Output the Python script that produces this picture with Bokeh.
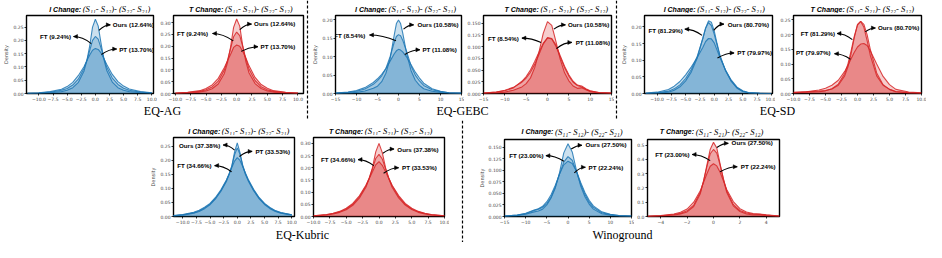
from bokeh.plotting import figure
from bokeh.layouts import row, column
from bokeh.models import (Range1d, FixedTicker, Arrow, NormalHead, Span,
                          ColumnDataSource, Spacer)
from bokeh.core.properties import value
from bokeh.embed import file_html
from bokeh.resources import INLINE

BLUE = "#1f77b4"
RED = "#d62728"

# ---------------- data ----------------
# EQ-AG, I change
ag_i_x = [-12, -10, -8, -6, -5, -4, -3, -2, -1.5, -1, -0.5, 0, 0.5, 1, 1.5, 2, 3, 4, 5, 6, 8, 10]
ag_i_ours = [0.000, 0.001, 0.003, 0.007, 0.012, 0.022, 0.042, 0.085, 0.125, 0.180, 0.250, 0.280, 0.255, 0.190, 0.130, 0.088, 0.043, 0.022, 0.012, 0.007, 0.003, 0.001]
ag_i_ft = [0.001, 0.002, 0.005, 0.012, 0.019, 0.032, 0.055, 0.095, 0.125, 0.162, 0.200, 0.215, 0.205, 0.172, 0.135, 0.100, 0.058, 0.034, 0.020, 0.012, 0.005, 0.002]
ag_i_pt = [0.001, 0.003, 0.007, 0.016, 0.026, 0.042, 0.068, 0.102, 0.124, 0.145, 0.163, 0.170, 0.166, 0.153, 0.132, 0.110, 0.072, 0.045, 0.028, 0.017, 0.007, 0.003]
# EQ-AG, T change
ag_t_x = [-10, -8, -6, -5, -4, -3, -2, -1.5, -1, -0.5, 0, 0.5, 1, 1.5, 2, 3, 4, 5, 6, 8, 10]
ag_t_ours = [0.000, 0.002, 0.006, 0.011, 0.020, 0.040, 0.085, 0.130, 0.195, 0.280, 0.315, 0.285, 0.200, 0.135, 0.088, 0.042, 0.021, 0.011, 0.006, 0.002, 0.001]
ag_t_ft = [0.001, 0.004, 0.009, 0.016, 0.028, 0.052, 0.100, 0.140, 0.190, 0.240, 0.260, 0.245, 0.198, 0.148, 0.105, 0.055, 0.029, 0.016, 0.009, 0.004, 0.001]
ag_t_pt = [0.002, 0.005, 0.012, 0.021, 0.036, 0.064, 0.110, 0.138, 0.165, 0.195, 0.205, 0.200, 0.178, 0.150, 0.118, 0.068, 0.038, 0.022, 0.012, 0.005, 0.002]
# EQ-GEBC, I change
gebc_i_x = [-15, -12, -10, -8, -6, -5, -4, -3, -2, -1, -0.5, 0, 0.5, 1, 2, 3, 4, 5, 6, 8, 10, 12, 15]
gebc_i_ours = [0.000, 0.001, 0.003, 0.007, 0.014, 0.020, 0.032, 0.055, 0.095, 0.160, 0.190, 0.200, 0.190, 0.165, 0.105, 0.062, 0.036, 0.022, 0.013, 0.006, 0.003, 0.001, 0.000]
gebc_i_ft = [0.001, 0.003, 0.006, 0.012, 0.025, 0.035, 0.048, 0.068, 0.100, 0.140, 0.155, 0.160, 0.157, 0.145, 0.112, 0.075, 0.050, 0.034, 0.022, 0.010, 0.005, 0.002, 0.001]
gebc_i_pt = [0.001, 0.004, 0.008, 0.016, 0.030, 0.040, 0.052, 0.068, 0.088, 0.108, 0.116, 0.120, 0.118, 0.113, 0.098, 0.078, 0.058, 0.042, 0.028, 0.013, 0.006, 0.002, 0.001]
# EQ-GEBC, T change
gebc_t_x = [-15, -12, -10, -8, -6, -5, -4, -3, -2, -1, 0, 1, 2, 3, 4, 5, 6, 7, 8, 9, 10, 12, 15]
gebc_t_ours = [0.000, 0.001, 0.003, 0.007, 0.014, 0.021, 0.033, 0.055, 0.088, 0.128, 0.153, 0.145, 0.110, 0.072, 0.044, 0.027, 0.016, 0.011, 0.012, 0.008, 0.004, 0.001, 0.000]
gebc_t_ft = [0.001, 0.003, 0.007, 0.013, 0.024, 0.033, 0.045, 0.062, 0.083, 0.105, 0.119, 0.117, 0.103, 0.080, 0.058, 0.040, 0.026, 0.018, 0.016, 0.010, 0.006, 0.002, 0.001]
gebc_t_pt = [0.001, 0.003, 0.006, 0.012, 0.026, 0.036, 0.050, 0.068, 0.088, 0.107, 0.118, 0.116, 0.100, 0.077, 0.055, 0.037, 0.024, 0.017, 0.014, 0.009, 0.005, 0.002, 0.001]
# EQ-SD, I change
sd_i_x = [-12, -10, -8, -7, -6, -5, -4, -3, -2, -1.5, -1, -0.5, 0, 0.5, 1, 2, 3, 4, 5, 6, 8, 10]
sd_i_ours = [0.000, 0.001, 0.004, 0.010, 0.020, 0.038, 0.065, 0.105, 0.165, 0.197, 0.218, 0.214, 0.188, 0.150, 0.115, 0.068, 0.036, 0.016, 0.006, 0.002, 0.000, 0.000]
sd_i_ft = [0.000, 0.002, 0.007, 0.014, 0.026, 0.045, 0.072, 0.110, 0.165, 0.196, 0.213, 0.204, 0.178, 0.145, 0.112, 0.068, 0.037, 0.017, 0.007, 0.002, 0.000, 0.000]
sd_i_pt = [0.001, 0.004, 0.012, 0.022, 0.036, 0.056, 0.080, 0.107, 0.138, 0.156, 0.165, 0.164, 0.152, 0.130, 0.108, 0.070, 0.040, 0.019, 0.008, 0.003, 0.001, 0.000]
# EQ-SD, T change
sd_t_x = [-10, -8, -6, -5, -4, -3, -2, -1.5, -1, -0.5, 0, 0.5, 1, 1.5, 2, 3, 4, 5, 6, 8, 10]
sd_t_ours = [0.004, 0.006, 0.008, 0.010, 0.015, 0.028, 0.060, 0.090, 0.135, 0.190, 0.235, 0.245, 0.225, 0.180, 0.130, 0.060, 0.028, 0.014, 0.007, 0.003, 0.001]
sd_t_ft = [0.002, 0.004, 0.006, 0.009, 0.016, 0.032, 0.068, 0.100, 0.145, 0.195, 0.232, 0.245, 0.235, 0.200, 0.150, 0.070, 0.030, 0.014, 0.006, 0.002, 0.001]
sd_t_pt = [0.003, 0.006, 0.012, 0.018, 0.028, 0.045, 0.075, 0.095, 0.118, 0.140, 0.158, 0.168, 0.170, 0.163, 0.145, 0.100, 0.058, 0.030, 0.014, 0.005, 0.002]
# EQ-Kubric, I change
kub_i_x = [-12, -10, -8, -7, -6, -5, -4, -3, -2, -1.5, -1, -0.5, 0, 0.5, 1, 1.5, 2, 3, 4, 5, 6, 7, 8, 10]
kub_i_ours = [0.002, 0.005, 0.012, 0.018, 0.028, 0.042, 0.063, 0.090, 0.125, 0.150, 0.180, 0.230, 0.263, 0.228, 0.180, 0.150, 0.128, 0.092, 0.064, 0.043, 0.028, 0.018, 0.012, 0.005]
kub_i_ft = [0.002, 0.006, 0.013, 0.020, 0.030, 0.044, 0.065, 0.092, 0.128, 0.152, 0.180, 0.220, 0.245, 0.222, 0.183, 0.153, 0.130, 0.094, 0.066, 0.045, 0.030, 0.020, 0.013, 0.006]
kub_i_pt = [0.003, 0.007, 0.015, 0.022, 0.033, 0.047, 0.068, 0.095, 0.130, 0.152, 0.175, 0.198, 0.210, 0.200, 0.178, 0.155, 0.133, 0.097, 0.068, 0.047, 0.032, 0.021, 0.014, 0.006]
# EQ-Kubric, T change
kub_t_x = [-10, -8, -7, -6, -5, -4, -3, -2, -1.5, -1, -0.5, 0, 0.5, 1, 1.5, 2, 3, 4, 5, 6, 7, 8, 10]
kub_t_ours = [0.002, 0.006, 0.010, 0.017, 0.028, 0.046, 0.075, 0.120, 0.155, 0.200, 0.265, 0.300, 0.262, 0.200, 0.155, 0.120, 0.076, 0.047, 0.029, 0.017, 0.010, 0.006, 0.002]
kub_t_ft = [0.003, 0.007, 0.012, 0.019, 0.031, 0.050, 0.080, 0.125, 0.158, 0.195, 0.238, 0.255, 0.236, 0.195, 0.158, 0.126, 0.081, 0.050, 0.031, 0.019, 0.012, 0.007, 0.003]
kub_t_pt = [0.003, 0.008, 0.013, 0.021, 0.034, 0.054, 0.085, 0.128, 0.155, 0.183, 0.212, 0.225, 0.210, 0.183, 0.156, 0.128, 0.086, 0.054, 0.034, 0.021, 0.013, 0.008, 0.003]
# Winoground, I change
wino_i_x = [-15, -12, -10, -8, -7, -6, -5, -4, -3, -2, -1, 0, 1, 2, 3, 4, 5, 6, 8, 10, 12, 15]
wino_i_ours = [0.000, 0.002, 0.005, 0.010, 0.012, 0.016, 0.025, 0.040, 0.062, 0.095, 0.138, 0.158, 0.140, 0.100, 0.066, 0.043, 0.027, 0.016, 0.006, 0.003, 0.001, 0.000]
wino_i_ft = [0.001, 0.003, 0.006, 0.013, 0.016, 0.020, 0.028, 0.042, 0.064, 0.092, 0.118, 0.130, 0.122, 0.097, 0.070, 0.048, 0.031, 0.020, 0.008, 0.004, 0.002, 0.001]
wino_i_pt = [0.001, 0.003, 0.007, 0.014, 0.017, 0.022, 0.032, 0.047, 0.068, 0.092, 0.112, 0.120, 0.115, 0.098, 0.074, 0.052, 0.035, 0.023, 0.010, 0.005, 0.002, 0.001]
# Winoground, T change
wino_t_x = [-5, -4, -3, -2.5, -2, -1.5, -1, -0.75, -0.5, -0.25, 0, 0.25, 0.5, 0.75, 1, 1.5, 2, 2.5, 3, 3.5, 4, 5]
wino_t_ours = [0.000, 0.003, 0.010, 0.018, 0.032, 0.070, 0.160, 0.250, 0.360, 0.470, 0.520, 0.480, 0.370, 0.260, 0.170, 0.075, 0.035, 0.018, 0.011, 0.010, 0.006, 0.001]
wino_t_ft = [0.001, 0.005, 0.014, 0.022, 0.040, 0.080, 0.170, 0.250, 0.350, 0.440, 0.470, 0.445, 0.360, 0.265, 0.180, 0.085, 0.042, 0.024, 0.016, 0.015, 0.010, 0.002]
wino_t_pt = [0.002, 0.007, 0.018, 0.030, 0.052, 0.100, 0.180, 0.240, 0.300, 0.352, 0.370, 0.355, 0.310, 0.250, 0.190, 0.105, 0.055, 0.032, 0.020, 0.018, 0.012, 0.003]

# tick values and labels
xt_25 = [-10, -7.5, -5, -2.5, 0, 2.5, 5, 7.5, 10]
xl_25 = ["\u221210.0", "\u22127.5", "\u22125.0", "\u22122.5", "0.0", "2.5", "5.0", "7.5", "10.0"]
xt_5 = [-15, -10, -5, 0, 5, 10, 15]
xl_5 = ["\u221215", "\u221210", "\u22125", "0", "5", "10", "15"]
xt_2 = [-4, -2, 0, 2, 4]
xl_2 = ["\u22124", "\u22122", "0", "2", "4"]
yt_25 = [0, 0.05, 0.1, 0.15, 0.2, 0.25]
yl_25 = ["0.00", "0.05", "0.10", "0.15", "0.20", "0.25"]
yt_30 = [0, 0.05, 0.1, 0.15, 0.2, 0.25, 0.3]
yl_30 = ["0.00", "0.05", "0.10", "0.15", "0.20", "0.25", "0.30"]
yt_20 = [0, 0.05, 0.1, 0.15, 0.2]
yl_20 = ["0.00", "0.05", "0.10", "0.15", "0.20"]
yt_150 = [0, 0.025, 0.05, 0.075, 0.1, 0.125, 0.15]
yl_150 = ["0.000", "0.025", "0.050", "0.075", "0.100", "0.125", "0.150"]
yt_5 = [0, 0.1, 0.2, 0.3, 0.4, 0.5]
yl_5 = ["0.0", "0.1", "0.2", "0.3", "0.4", "0.5"]

title_i = "(S\u2081\u2081- S\u2081\u2082)- (S\u2082\u2082- S\u2082\u2081)"
title_t = "(S\u2081\u2081- S\u2082\u2081)- (S\u2082\u2082- S\u2081\u2082)"

datasets = ["EQ-AG", "EQ-GEBC", "EQ-SD", "EQ-Kubric", "Winoground"]
ours_pct = ["12.64%", "10.58%", "80.70%", "37.38%", "27.50%"]
ft_pct = ["9.24%", "8.54%", "81.29%", "34.66%", "23.00%"]
pt_pct = ["13.70%", "11.08%", "79.97%", "33.53%", "22.24%"]

# annotation layout: (series, text frac x, text frac y, align, head fx, head fy, tail fx, tail fy)
ann = {
    "ag_i": [("Ours", .68, .89, "left", .66, .88, .57, .81), ("FT", .35, .73, "right", .37, .73, .51, .64), ("PT", .73, .57, "left", .71, .57, .59, .50)],
    "ag_t": [("Ours", .62, .90, "left", .60, .89, .51, .82), ("FT", .265, .77, "right", .30, .77, .46, .675), ("PT", .67, .60, "left", .65, .60, .52, .54)],
    "gebc_i": [("Ours", .65, .89, "left", .62, .88, .54, .825), ("FT", .236, .75, "right", .27, .75, .48, .675), ("PT", .69, .56, "left", .67, .56, .55, .50)],
    "gebc_t": [("Ours", .66, .89, "left", .64, .88, .55, .825), ("FT", .276, .705, "right", .30, .71, .45, .655), ("PT", .72, .655, "left", .69, .655, .57, .575)],
    "sd_i": [("Ours", .65, .89, "left", .62, .89, .54, .81), ("FT", .30, .81, "right", .315, .825, .45, .745), ("PT", .725, .52, "left", .70, .52, .57, .455)],
    "sd_t": [("Ours", .66, .84, "left", .64, .84, .56, .79), ("FT", .325, .765, "right", .34, .77, .46, .69), ("PT", .29, .52, "right", .32, .51, .445, .44)],
    "kub_i": [("Ours", .386, .90, "right", .41, .905, .505, .84), ("PT", .677, .824, "left", .65, .824, .545, .76), ("FT", .315, .644, "right", .34, .644, .48, .567)],
    "kub_t": [("Ours", .64, .854, "left", .615, .854, .53, .80), ("FT", .32, .72, "right", .34, .72, .46, .644), ("PT", .676, .617, "left", .65, .617, .535, .548)],
    "wino_i": [("Ours", .637, .937, "left", .61, .925, .525, .877), ("FT", .308, .79, "right", .326, .79, .468, .718), ("PT", .662, .64, "left", .637, .64, .55, .568)],
    "wino_t": [("Ours", .637, .956, "left", .612, .95, .525, .896), ("FT", .319, .80, "right", .338, .806, .475, .726), ("PT", .707, .646, "left", .68, .646, .55, .58)],
}

# geometry: border left, frame width, border right, title band, frame height, border bottom, title y
panels = [
    dict(key="ag_i", ds=0, kind="I", x=ag_i_x, s=(ag_i_pt, ag_i_ft, ag_i_ours), xr=(-12.2, 10.3), yr=(0, 0.294), xt=xt_25, xl=xl_25, yt=yt_25, yl=yl_25, anchor=0.35, geom=(23, 130, 4, 13, 79, 9, 4.5)),
    dict(key="ag_t", ds=0, kind="T", x=ag_t_x, s=(ag_t_pt, ag_t_ft, ag_t_ours), xr=(-10.3, 10.9), yr=(0, 0.33), xt=xt_25, xl=xl_25, yt=yt_30, yl=yl_30, anchor=0.32, geom=(16, 130, 2, 13, 79, 9, 4.5)),
    dict(key="gebc_i", ds=1, kind="I", x=gebc_i_x, s=(gebc_i_pt, gebc_i_ft, gebc_i_ours), xr=(-15, 15), yr=(0, 0.212), xt=xt_5, xl=xl_5, yt=yt_20, yl=yl_20, anchor=0.33, geom=(21, 131, 3, 13, 79, 9, 4.5)),
    dict(key="gebc_t", ds=1, kind="T", x=gebc_t_x, s=(gebc_t_pt, gebc_t_ft, gebc_t_ours), xr=(-15, 15), yr=(0, 0.166), xt=xt_5, xl=xl_5, yt=yt_150, yl=yl_150, anchor=0.38, geom=(16, 131, 3, 13, 79, 9, 4.5)),
    dict(key="sd_i", ds=2, kind="I", x=sd_i_x, s=(sd_i_pt, sd_i_ft, sd_i_ours), xr=(-12.2, 10.2), yr=(0, 0.234), xt=xt_25, xl=xl_25, yt=yt_20, yl=yl_20, anchor=0.31, geom=(23, 131, 3, 13, 79, 9, 4.5)),
    dict(key="sd_t", ds=2, kind="T", x=sd_t_x, s=(sd_t_pt, sd_t_ft, sd_t_ours), xr=(-10, 10), yr=(0, 0.265), xt=xt_25, xl=xl_25, yt=yt_25, yl=yl_25, anchor=0.34, geom=(18, 128, 5, 13, 79, 9, 4.5)),
    dict(key="kub_i", ds=3, kind="I", x=kub_i_x, s=(kub_i_pt, kub_i_ft, kub_i_ours), xr=(-11.7, 10.5), yr=(0, 0.282), xt=xt_25, xl=xl_25, yt=yt_25, yl=yl_25, anchor=0.29, geom=(23, 124, 3, 15, 80, 9, 4.5)),
    dict(key="kub_t", ds=3, kind="T", x=kub_t_x, s=(kub_t_pt, kub_t_ft, kub_t_ours), xr=(-10, 10), yr=(0, 0.324), xt=xt_25, xl=xl_25, yt=yt_30, yl=yl_30, anchor=0.33, geom=(15, 132, 5, 15, 80, 9, 4.5)),
    dict(key="wino_i", ds=4, kind="I", x=wino_i_x, s=(wino_i_pt, wino_i_ft, wino_i_ours), xr=(-15, 15), yr=(0, 0.167), xt=xt_5, xl=xl_5, yt=yt_150, yl=yl_150, anchor=0.29, geom=(24, 132, 3, 17, 79, 8, 5.7)),
    dict(key="wino_t", ds=4, kind="T", x=wino_t_x, s=(wino_t_pt, wino_t_ft, wino_t_ours), xr=(-5, 5), yr=(0, 0.54), xt=xt_2, xl=xl_2, yt=yt_5, yl=yl_5, anchor=0.31, geom=(13, 132, 5, 17, 79, 8, 5.7)),
]


def blank_fig(w, h):
    p = figure(width=w, height=h, x_range=Range1d(0, w), y_range=Range1d(0, h),
               x_axis_type=None, y_axis_type=None, min_border=0,
               output_backend="svg", toolbar_location=None)
    p.outline_line_color = None
    p.grid.visible = False
    return p


def make_panel(pp):
    bl, fw, br, th, fh, bb, ty = pp["geom"]
    x0, x1 = pp["xr"]
    y0, y1 = pp["yr"]
    color = BLUE if pp["kind"] == "I" else RED
    w = bl + fw + br
    p = figure(width=w, height=2 + fh + bb,
               x_range=Range1d(x0, x1), y_range=Range1d(y0, y1),
               output_backend="svg", toolbar_location=None,
               min_border_left=bl, min_border_right=br,
               min_border_top=2, min_border_bottom=bb)
    p.grid.visible = False
    p.outline_line_color = "black"
    p.outline_line_width = 1.4
    p.outline_line_alpha = 1.0
    for ax in (p.xaxis[0], p.yaxis[0]):
        ax.axis_line_color = None
        ax.major_tick_line_color = "black"
        ax.major_tick_line_width = 0.8
        ax.major_tick_out = 2
        ax.major_tick_in = 0
        ax.minor_tick_line_color = None
        ax.major_label_text_font = "DejaVu Sans"
        ax.major_label_text_font_size = "4.5px"
        ax.major_label_text_color = "#444444"
        ax.major_label_standoff = 1
    p.xaxis.ticker = FixedTicker(ticks=pp["xt"])
    p.xaxis.major_label_overrides = {t: l for t, l in zip(pp["xt"], pp["xl"])}
    p.yaxis.ticker = FixedTicker(ticks=pp["yt"])
    p.yaxis.major_label_overrides = {t: l for t, l in zip(pp["yt"], pp["yl"])}
    if pp["kind"] == "I":
        p.yaxis.axis_label = "Density"
        p.yaxis.axis_label_text_font = "DejaVu Sans"
        p.yaxis.axis_label_text_font_size = "5px"
        p.yaxis.axis_label_text_font_style = "normal"
        p.yaxis.axis_label_text_color = "#444444"
        p.yaxis.axis_label_standoff = 1

    xs = pp["x"]
    for ys in pp["s"]:
        p.varea(x=xs, y1=0, y2=ys, fill_color=color, fill_alpha=0.23)
    for ys in pp["s"]:
        p.line(xs, ys, line_color=color, line_width=1.1, line_alpha=0.85)

    # annotations
    pct = {"Ours": ours_pct[pp["ds"]], "FT": ft_pct[pp["ds"]], "PT": pt_pct[pp["ds"]]}
    d = dict(tx=[], ty=[], txt=[], al=[], x0=[], y0=[], x1=[], y1=[], cx=[], cy=[])
    fx = lambda f: x0 + f * (x1 - x0)
    fy = lambda f: y0 + f * (y1 - y0)
    for name, tfx, tfy, al, hfx, hfy, afx, afy in ann[pp["key"]]:
        d["tx"].append(fx(tfx)); d["ty"].append(fy(tfy))
        d["txt"].append(f"{name} ({pct[name]})"); d["al"].append(al)
        d["x0"].append(fx(afx)); d["y0"].append(fy(afy))
        d["x1"].append(fx(hfx)); d["y1"].append(fy(hfy))
        d["cx"].append(fx((afx + hfx) / 2)); d["cy"].append(fy(hfy))
    src = ColumnDataSource(d)
    p.quadratic(x0="x0", y0="y0", x1="x1", y1="y1", cx="cx", cy="cy", source=src,
                line_color="black", line_width=1.1)
    p.add_layout(Arrow(end=NormalHead(size=4, fill_color="black", line_color="black", line_width=0.5),
                       x_start="cx", y_start="cy", x_end="x1", y_end="y1",
                       source=src, line_alpha=0))
    p.text(x="tx", y="ty", text="txt", source=src, text_align="al", text_baseline="middle",
           text_font=value("Liberation Sans"), text_font_style="bold",
           text_font_size="6.2px", text_color="black")

    # title band above the frame (two-part title)
    t = blank_fig(w, th)
    xa = bl + pp["anchor"] * fw
    t.text(x=[xa - 1], y=[ty], text=[pp["kind"] + " Change:"], text_align="right",
           text_baseline="middle", text_font=value("Liberation Sans"),
           text_font_style="bold italic", text_font_size="7px", text_color="black")
    t.text(x=[xa + 1], y=[ty], text=[title_i if pp["kind"] == "I" else title_t],
           text_align="left", text_baseline="middle", text_font=value("Liberation Serif"),
           text_font_style="italic", text_font_size="8.6px", text_color="black")
    return column(t, p), w


def label_fig(w, h, text, cx, cy):
    p = blank_fig(w, h)
    p.text(x=[cx], y=[cy], text=[text], text_align="center", text_baseline="middle",
           text_font=value("Liberation Serif"), text_font_size="12px", text_color="black")
    return p


def sep_fig(w, h):
    p = blank_fig(w, h)
    p.add_layout(Span(location=w / 2, dimension="height", line_color="black",
                      line_width=1.2, line_dash="3 2"))
    return p


cols = [make_panel(pp) for pp in panels]

label_centers = [162, 462, 777, 302, 622]
pair_starts = [0, 309, 618, 147, 475]


def pair(i, j, k, h, ly):
    (a, wa), (b, wb) = cols[i], cols[j]
    return column(row(a, b), label_fig(wa + wb, h, datasets[k], label_centers[k] - pair_starts[k], ly))


top = row(
    pair(0, 1, 0, 17, 9.3),
    sep_fig(4, 120),
    pair(2, 3, 1, 17, 9.3),
    sep_fig(4, 120),
    pair(4, 5, 2, 17, 9.3),
)
bottom = row(
    Spacer(width=147, height=122),
    pair(6, 7, 3, 16, 7.5),
    sep_fig(26, 122),
    pair(8, 9, 4, 16, 7.5),
    Spacer(width=142, height=122),
)
layout = column(top, bottom)

open("out.html", "w").write(file_html(layout, INLINE))
